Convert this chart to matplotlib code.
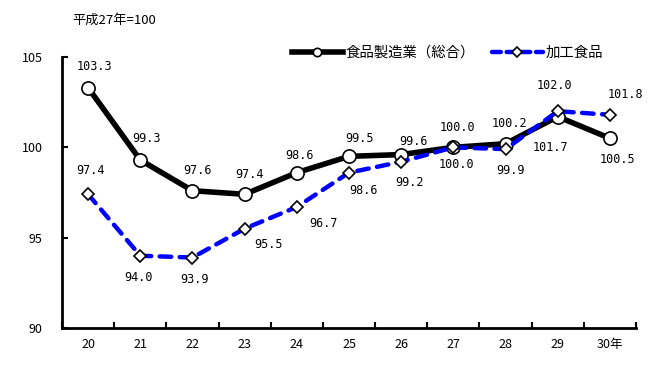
import matplotlib
matplotlib.use("Agg")
import matplotlib.pyplot as plt
from matplotlib.lines import Line2D

plt.rcParams['font.family'] = ['Noto Sans CJK JP', 'DejaVu Sans']

years = ['20', '21', '22', '23', '24', '25', '26', '27', '28', '29', '30年']
food_mfg = [103.3, 99.3, 97.6, 97.4, 98.6, 99.5, 99.6, 100.0, 100.2, 101.7, 100.5]
processed = [97.4, 94.0, 93.9, 95.5, 96.7, 98.6, 99.2, 100.0, 99.9, 102.0, 101.8]

# label offsets in pixels (x, y) relative to each point
off_mfg = [(6, 21), (6, 21), (5, 20), (5, 20), (3, 17), (10, 18), (12, 13), (4, 20), (4, 20), (-7, -31), (8, -21)]
off_proc = [(2, 24), (-2, -22), (2, -22), (24, -16), (27, -17), (15, -18), (8, -21), (3, -17), (5, -21), (-3, 26), (16, 20)]

fig = plt.figure(figsize=(6.68, 3.78), dpi=100)
ax = fig.add_axes([62 / 668, 1 - 328 / 378, 574 / 668, 271 / 378])

x = list(range(len(years)))
ax.plot(x, food_mfg, color='black', lw=4, marker='o', ms=9.5,
        mfc='white', mec='black', mew=1.2, zorder=3)
ax.plot(x, processed, color='#0000ff', lw=3.2, dashes=(2.6, 1.9), dash_capstyle='round',
        marker='D', ms=6.5, mfc='white', mec='black', mew=1.2, zorder=4)

for i in x:
    ax.annotate(f'{food_mfg[i]:.1f}', (i, food_mfg[i]), xytext=off_mfg[i],
                textcoords='offset pixels', ha='center', va='center',
                fontsize=8.5, family='DejaVu Sans Mono')
    ax.annotate(f'{processed[i]:.1f}', (i, processed[i]), xytext=off_proc[i],
                textcoords='offset pixels', ha='center', va='center',
                fontsize=8.5, family='DejaVu Sans Mono')

ax.set_xlim(-0.5, len(years) - 0.5)
ax.set_ylim(90, 105)
ax.set_yticks([90, 95, 100, 105])
ax.tick_params(axis='y', direction='in', length=4, width=1.5, pad=14, labelsize=9)

ax.set_xticks([i - 0.5 for i in range(len(years) + 1)])
ax.set_xticklabels([])
ax.set_xticks(x, minor=True)
ax.set_xticklabels(years, minor=True)
ax.tick_params(axis='x', which='major', direction='in', length=4, width=1.5)
ax.tick_params(axis='x', which='minor', length=0, pad=7, labelsize=9)

for s in ['top', 'right']:
    ax.spines[s].set_visible(False)
for s in ['left', 'bottom']:
    ax.spines[s].set_linewidth(2)

fig.text(72 / 668, 1 - 20 / 378, '平成27年=100', fontsize=9.5, va='center', ha='left')

handles = [
    Line2D([], [], color='black', lw=4, marker='o', ms=6, mfc='white', mec='black', mew=1.2),
    Line2D([], [], color='#0000ff', lw=3.2, dashes=(2, 1.3), dash_capstyle='round',
           marker='D', ms=5, mfc='white', mec='black', mew=1.2),
]
fig.legend(handles, ['食品製造業（総合）', '加工食品'], loc='center left',
           bbox_to_anchor=(292 / 668, 1 - 53 / 378), ncol=2, frameon=False,
           fontsize=10.4, handlelength=3.5, handletextpad=0.2, columnspacing=1.2,
           borderpad=0, borderaxespad=0)

fig.savefig('out.png', dpi=100)
